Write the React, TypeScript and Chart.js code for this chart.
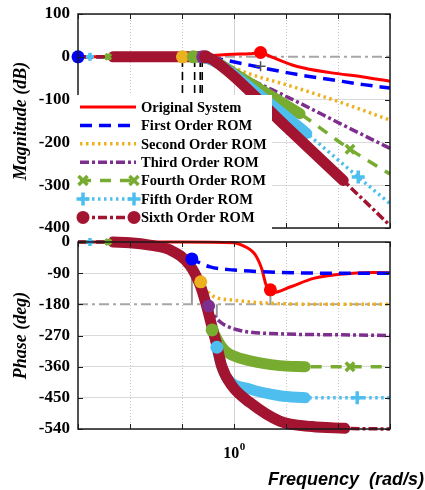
import React, { useEffect, useRef } from 'react';
import { Chart, registerables } from 'chart.js';

Chart.register(...registerables);

const SERIF = '"Liberation Serif", "Times New Roman", Times, serif';
const SANS = '"Liberation Sans", Arial, Helvetica, sans-serif';

const RED = '#ff0000';
const BLUE = '#0000ff';
const ORANGE = '#edb120';
const PURPLE = '#7e2f8e';
const GREEN = '#77ac30';
const CYAN = '#4dbeee';
const MAROON = '#a2142f';
const GRAY = '#a6a6a6';

const SERIES_LABELS = [
  'Original System',
  'First Order ROM',
  'Second Order ROM',
  'Third Order ROM',
  'Fourth Order ROM',
  'Fifth Order ROM',
  'Sixth Order ROM',
];

// ---- axes ----
const W_MIN = 1e-3;
const W_MAX = 1e3;
const DECADES = [1e-3, 1e-2, 1e-1, 1, 10, 100, 1000];
const X_LABEL_VALUE = 1;
const MAG_MIN = -400, MAG_MAX = 100, MAG_STEP = 100;
const PH_MIN = -540, PH_MAX = 0, PH_STEP = 90;
const MAG_REF = 0;     // 0 dB reference line
const PH_REF = -180;   // -180 deg reference line

// ---- magnitude (dB) ----
const MAG_ORIG_W = [0.001, 0.1, 0.316, 0.631, 1, 2, 3.24, 4, 5.75, 15.8, 70.8, 309, 1000];
const MAG_ORIG_DB = [0, 0.3, 2, 5, 6, 7, 10, 6, -2, -22, -37, -47, -57];
const MAG_R1_W = [0.001, 0.1, 0.251, 0.501, 0.832, 3.63, 15.8, 70.8, 309, 1000];
const MAG_R1_DB = [0, 0, -2, -5, -10, -26, -41, -53, -65, -73];
const MAG_R2_W = [0.001, 0.1, 0.316, 0.501, 1, 2, 12, 110, 1000];
const MAG_R2_DB = [0, 0, -3, -10, -26, -40, -68, -106, -148];
const MAG_R3_W = [0.001, 0.158, 0.282, 0.501, 1, 2.75, 12, 110, 1000];
const MAG_R3_DB = [0, 0, -3, -15, -33, -60, -97, -156, -214];
const MAG_R4_W = [0.001, 0.2, 0.316, 0.501, 1, 18.6, 170, 1000];
const MAG_R4_DB = [0, 0, -4, -15, -38, -133, -216, -274];
const MAG_R5_W = [0.001, 0.2, 0.316, 0.501, 1, 25.1, 245, 1000];
const MAG_R5_DB = [0, 0, -4, -16, -42, -179, -281, -343];
const MAG_R6_W = [0.001, 0.0047, 0.251, 0.355, 0.501, 1, 10, 126, 1000];
const MAG_R6_DB = [0, 0, 0, -4, -16, -46, -163, -289, -394];

const MAG_BAND_R4 = [0.2, 18.6];
const MAG_BAND_R5 = [0.2, 25.1];
const MAG_BAND_R6 = [0.0047, 126];

const MAG_DOT_W = [0.001, 0.102, 0.165, 0.25, 0.285, 3.24];
const MAG_DOT_DB = [0, 0, 0, 0, 0, 10];
const MAG_DOT_COLORS = [BLUE, ORANGE, GREEN, PURPLE, MAROON, RED];
const MAG_R4_MARK_W = [0.0038, 170];
const MAG_R4_MARK_DB = [0, -216];
const MAG_R5_MARK_W = [0.0017, 245];
const MAG_R5_MARK_DB = [0, -281];
const MAG_GM_MARK_W = [3.24];
const MAG_GM_MARK_DB = [-22];
const GM_LINE_W = [0.102, 0.175, 0.224, 0.245];
const GM_LINE_FROM = -5;
const GM_LINE_TO = -120;

// ---- phase (deg) ----
const PH_ORIG_W = [0.001, 0.1, 1, 1.41, 2.51, 3.39, 4.17, 5.01, 5.75, 12, 33.9, 110, 479, 1000];
const PH_ORIG_DEG = [0, 0, -2, -9, -35, -76, -125, -138, -146, -130, -105, -93, -88, -89];
const PH_R1_W = [0.001, 0.01, 0.0316, 0.063, 0.1, 0.155, 0.347, 1, 7.59, 100, 1000];
const PH_R1_DEG = [0, -2, -8, -20, -32, -49, -72, -81, -88, -90, -90];
const PH_R2_W = [0.001, 0.01, 0.024, 0.059, 0.141, 0.229, 0.372, 1, 7.59, 100, 1000];
const PH_R2_DEG = [0, -2, -9, -23, -67, -115, -154, -168, -178, -180, -180];
const PH_R3_W = [0.001, 0.01, 0.024, 0.059, 0.141, 0.224, 0.324, 0.468, 1, 7.59, 110, 1000];
const PH_R3_DEG = [0, -2, -9, -23, -67, -125, -185, -222, -251, -265, -268, -270];
const PH_R4_W = [0.001, 0.01, 0.024, 0.059, 0.141, 0.224, 0.295, 0.38, 0.562, 0.724, 2.04, 7.59, 23.4, 170, 1000];
const PH_R4_DEG = [0, -2, -9, -23, -67, -125, -183, -254, -300, -318, -343, -357, -360, -360, -360];
const PH_R5_W = [0.001, 0.01, 0.024, 0.059, 0.141, 0.224, 0.295, 0.372, 0.468, 0.575, 0.724, 2.04, 7.59, 23.4, 234, 1000];
const PH_R5_DEG = [0, -2, -9, -23, -67, -125, -183, -241, -304, -357, -392, -425, -444, -450, -450, -450];
const PH_R6_W = [0.001, 0.0047, 0.01, 0.024, 0.059, 0.141, 0.224, 0.295, 0.372, 0.468, 0.575, 0.912, 2.04, 7.59, 31.6, 135, 1000];
const PH_R6_DEG = [0, 0, -2, -9, -23, -67, -125, -183, -241, -299, -357, -415, -464, -517, -533, -538, -540];

const PH_BAND_R4 = [0.38, 23.4];
const PH_BAND_R5 = [0.468, 23.4];
const PH_BAND_R6 = [0.0047, 135];

const PH_DOT_W = [0.155, 0.229, 0.324, 0.38, 0.468, 5.01];
const PH_DOT_DEG = [-49, -115, -185, -254, -304, -138];
const PH_DOT_COLORS = [BLUE, ORANGE, PURPLE, GREEN, CYAN, RED];
const PH_R4_MARK_W = [0.0038, 170];
const PH_R4_MARK_DEG = [0, -360];
const PH_R5_MARK_W = [0.0017, 234];
const PH_R5_MARK_DEG = [0, -450];
const PM_LINE_W = [0.155, 0.468, 5.01];
const PM_LINE_FROM = [-180, -180, -180];
const PM_LINE_TO = [-86, -217, -149];

// ---- styles ----
const STY = [
  { color: RED, dash: [] as number[], width: 3, marker: '' },
  { color: BLUE, dash: [12, 7], width: 3.5, marker: '' },
  { color: ORANGE, dash: [2.5, 3.5], width: 3.5, marker: '' },
  { color: PURPLE, dash: [9, 3, 3, 3], width: 3.5, marker: '' },
  { color: GREEN, dash: [11, 9], width: 3.5, marker: 'x' },
  { color: CYAN, dash: [2.5, 3.5], width: 3.5, marker: '+' },
  { color: MAROON, dash: [9, 3, 3, 3], width: 3.5, marker: 'o' },
];
const BAND_WIDTH = 11;

type P = { x: number; y: number };
const pts = (w: number[], v: number[]): P[] => w.map((x, i) => ({ x, y: v[i] }));
const within = (p: P[], r: number[]) => p.filter((q) => q.x >= r[0] && q.x <= r[1]);

function curve(data: P[], i: number, order: number) {
  const s = STY[i];
  return {
    data, borderColor: s.color, backgroundColor: s.color, borderWidth: s.width, borderDash: s.dash,
    pointRadius: 0, cubicInterpolationMode: 'monotone', fill: false, clip: false, order,
  };
}
function bandSet(data: P[], color: string, order: number) {
  return {
    data, borderColor: color, borderWidth: BAND_WIDTH, pointRadius: 0, cubicInterpolationMode: 'monotone',
    borderCapStyle: 'round', borderJoinStyle: 'round', fill: false, clip: false, order,
  };
}
function markers(data: P[], colors: any, style: string, radius: any, bw: number, order: number) {
  return {
    data, showLine: false, pointStyle: style, pointRadius: radius, pointBackgroundColor: colors,
    pointBorderColor: colors, pointBorderWidth: bw, clip: false, order,
  };
}
function straight(data: P[], color: string, width: number, dash: number[], order: number) {
  return {
    data, borderColor: color, borderWidth: width, borderDash: dash, pointRadius: 0, tension: 0,
    fill: false, clip: false, order,
  };
}

function magDatasets() {
  const r4 = pts(MAG_R4_W, MAG_R4_DB);
  const r5 = pts(MAG_R5_W, MAG_R5_DB);
  const r6 = pts(MAG_R6_W, MAG_R6_DB);
  const sets: any[] = [
    markers(pts(MAG_DOT_W, MAG_DOT_DB), MAG_DOT_COLORS, 'circle', 6.5, 0, 0),
    markers(pts(MAG_R4_MARK_W, MAG_R4_MARK_DB), GREEN, 'crossRot', [4, 6], 3.5, 1),
    markers(pts(MAG_R5_MARK_W, MAG_R5_MARK_DB), CYAN, 'cross', [4, 6.5], 3.5, 1),
    markers(pts(MAG_GM_MARK_W, MAG_GM_MARK_DB), '#555555', 'cross', 5, 1.5, 1),
    bandSet(within(r6, MAG_BAND_R6), MAROON, 2),
    curve(r6, 6, 3),
    bandSet(within(r5, MAG_BAND_R5), CYAN, 4),
    curve(r5, 5, 5),
    bandSet(within(r4, MAG_BAND_R4), GREEN, 6),
    curve(r4, 4, 7),
    curve(pts(MAG_R3_W, MAG_R3_DB), 3, 8),
    curve(pts(MAG_R2_W, MAG_R2_DB), 2, 9),
    curve(pts(MAG_R1_W, MAG_R1_DB), 1, 10),
    curve(pts(MAG_ORIG_W, MAG_ORIG_DB), 0, 11),
    straight([{ x: W_MIN, y: MAG_REF }, { x: W_MAX, y: MAG_REF }], GRAY, 2, [10, 4, 3, 4], 12),
  ];
  GM_LINE_W.forEach((w) => {
    sets.push(straight([{ x: w, y: GM_LINE_FROM }, { x: w, y: GM_LINE_TO }], '#000000', 1.6, [8, 5], 12));
  });
  return sets;
}

function phDatasets() {
  const r4 = pts(PH_R4_W, PH_R4_DEG);
  const r5 = pts(PH_R5_W, PH_R5_DEG);
  const r6 = pts(PH_R6_W, PH_R6_DEG);
  const sets: any[] = [
    markers(pts(PH_DOT_W, PH_DOT_DEG), PH_DOT_COLORS, 'circle', 6.5, 0, 0),
    markers(pts(PH_R4_MARK_W, PH_R4_MARK_DEG), GREEN, 'crossRot', [4, 6], 3.5, 1),
    markers(pts(PH_R5_MARK_W, PH_R5_MARK_DEG), CYAN, 'cross', [4, 6.5], 3.5, 1),
    bandSet(within(r6, PH_BAND_R6), MAROON, 2),
    curve(r6, 6, 3),
    bandSet(within(r5, PH_BAND_R5), CYAN, 4),
    curve(r5, 5, 5),
    bandSet(within(r4, PH_BAND_R4), GREEN, 6),
    curve(r4, 4, 7),
    curve(pts(PH_R3_W, PH_R3_DEG), 3, 8),
    curve(pts(PH_R2_W, PH_R2_DEG), 2, 9),
    curve(pts(PH_R1_W, PH_R1_DEG), 1, 10),
    curve(pts(PH_ORIG_W, PH_ORIG_DEG), 0, 11),
    straight([{ x: W_MIN, y: PH_REF }, { x: W_MAX, y: PH_REF }], GRAY, 2, [10, 4, 3, 4], 12),
  ];
  PM_LINE_W.forEach((w, i) => {
    sets.push(straight([{ x: w, y: PM_LINE_FROM[i] }, { x: w, y: PM_LINE_TO[i] }], '#999999', 2, [], 12));
  });
  return sets;
}

// ---- plugins ----
const gridPlugin = {
  id: 'decadeGrid',
  beforeDatasetsDraw(chart: any) {
    const { ctx, chartArea: a, scales } = chart;
    const x = scales.x;
    ctx.save();
    DECADES.forEach((v) => {
      if (v === W_MIN || v === W_MAX) return;
      const px = Math.round(x.getPixelForValue(v)) + 0.5;
      ctx.beginPath();
      ctx.lineWidth = 1;
      ctx.strokeStyle = v === 1 ? '#d4d4d4' : '#c4c4c4';
      ctx.setLineDash(v === 1 ? [] : [1, 2]);
      ctx.moveTo(px, a.top);
      ctx.lineTo(px, a.bottom);
      ctx.stroke();
    });
    ctx.restore();
  },
};

const framePlugin = {
  id: 'frameBox',
  afterDatasetsDraw(chart: any) {
    const { ctx, chartArea: a, scales } = chart;
    ctx.save();
    ctx.setLineDash([]);
    ctx.strokeStyle = '#1a1a1a';
    ctx.lineWidth = 1.5;
    ctx.strokeRect(a.left, a.top, a.right - a.left, a.bottom - a.top);
    ctx.lineWidth = 1;
    ctx.beginPath();
    scales.y.ticks.forEach((t: any) => {
      const py = Math.round(scales.y.getPixelForValue(t.value)) + 0.5;
      ctx.moveTo(a.left, py); ctx.lineTo(a.left + 5, py);
      ctx.moveTo(a.right - 5, py); ctx.lineTo(a.right, py);
    });
    DECADES.forEach((v) => {
      const px = Math.round(scales.x.getPixelForValue(v)) + 0.5;
      ctx.moveTo(px, a.bottom); ctx.lineTo(px, a.bottom - 5);
      ctx.moveTo(px, a.top); ctx.lineTo(px, a.top + 5);
    });
    ctx.stroke();
    ctx.restore();
  },
};

function drawMarker(ctx: CanvasRenderingContext2D, kind: string, x: number, y: number, color: string) {
  ctx.save();
  ctx.setLineDash([]);
  ctx.strokeStyle = color;
  ctx.fillStyle = color;
  if (kind === 'o') {
    ctx.beginPath();
    ctx.arc(x, y, 6.5, 0, Math.PI * 2);
    ctx.fill();
  } else if (kind === 'x') {
    ctx.lineWidth = 3.5;
    ctx.beginPath();
    ctx.moveTo(x - 4.5, y - 4.5); ctx.lineTo(x + 4.5, y + 4.5);
    ctx.moveTo(x - 4.5, y + 4.5); ctx.lineTo(x + 4.5, y - 4.5);
    ctx.stroke();
  } else if (kind === '+') {
    ctx.lineWidth = 3.5;
    ctx.beginPath();
    ctx.moveTo(x - 6.5, y); ctx.lineTo(x + 6.5, y);
    ctx.moveTo(x, y - 6.5); ctx.lineTo(x, y + 6.5);
    ctx.stroke();
  }
  ctx.restore();
}

const legendPlugin = {
  id: 'boxLegend',
  afterDraw(chart: any) {
    const { ctx, chartArea: a } = chart;
    const left = a.left - 2;
    const top = 95;
    const right = 272;
    const bottom = a.bottom + 4;
    ctx.save();
    ctx.fillStyle = '#ffffff';
    ctx.fillRect(left, top, right - left, bottom - top);
    const x0 = a.left + 2;
    const x1 = a.left + 58;
    SERIES_LABELS.forEach((label, i) => {
      const s = STY[i];
      const y = 107 + i * 18.4;
      ctx.beginPath();
      ctx.setLineDash(s.dash);
      ctx.lineWidth = s.width;
      ctx.strokeStyle = s.color;
      ctx.moveTo(x0, y);
      ctx.lineTo(x1, y);
      ctx.stroke();
      ctx.setLineDash([]);
      if (s.marker) {
        drawMarker(ctx, s.marker, x0 + 3, y, s.color);
        drawMarker(ctx, s.marker, x1 - 2, y, s.color);
      }
      ctx.fillStyle = '#000000';
      ctx.font = `bold 14.5px ${SERIF}`;
      ctx.textAlign = 'left';
      ctx.textBaseline = 'middle';
      ctx.fillText(label, a.left + 63, y + 1);
    });
    ctx.restore();
  },
};

const bottomTextPlugin = {
  id: 'bottomText',
  afterDraw(chart: any) {
    const { ctx, chartArea: a, scales } = chart;
    const cx = scales.x.getPixelForValue(X_LABEL_VALUE);
    ctx.save();
    ctx.fillStyle = '#000000';
    ctx.textAlign = 'left';
    ctx.textBaseline = 'alphabetic';
    ctx.font = `bold 16px ${SERIF}`;
    const w10 = ctx.measureText('10').width;
    ctx.font = `bold 11px ${SERIF}`;
    const w0 = ctx.measureText('0').width;
    const start = cx - (w10 + w0) / 2;
    ctx.font = `bold 16px ${SERIF}`;
    ctx.fillText('10', start, a.bottom + 29);
    ctx.font = `bold 11px ${SERIF}`;
    ctx.fillText('0', start + w10 + 0.5, a.bottom + 21);
    ctx.font = `italic bold 18px ${SANS}`;
    ctx.textAlign = 'right';
    ctx.fillText('Frequency  (rad/s)', chart.width - 1, a.bottom + 56);
    ctx.restore();
  },
};

function makeConfig(kind: 'mag' | 'ph'): any {
  const isMag = kind === 'mag';
  const ref = isMag ? MAG_REF : PH_REF;
  return {
    type: 'line',
    data: { datasets: isMag ? magDatasets() : phDatasets() },
    options: {
      responsive: false,
      animation: false,
      events: [],
      layout: { padding: { top: isMag ? 14 : 12, right: 35, left: 0, bottom: 0 } },
      plugins: { legend: { display: false }, tooltip: { enabled: false } },
      scales: {
        x: {
          type: 'logarithmic',
          min: W_MIN,
          max: W_MAX,
          afterBuildTicks: (s: any) => { s.ticks = DECADES.map((v) => ({ value: v })); },
          ticks: { display: false },
          grid: { display: false },
          border: { display: false },
          afterFit: (s: any) => {
            s.height = isMag ? 12 : 61;
            s.paddingLeft = 0; s.paddingRight = 0;
          },
        },
        y: {
          type: 'linear',
          min: isMag ? MAG_MIN : PH_MIN,
          max: isMag ? MAG_MAX : PH_MAX,
          ticks: {
            stepSize: isMag ? MAG_STEP : PH_STEP,
            font: { family: SERIF, weight: 'bold', size: 17 },
            color: '#000000',
            padding: 8,
          },
          grid: {
            color: (c: any) => (c.tick && c.tick.value === ref ? 'rgba(0,0,0,0)' : '#dadada'),
            lineWidth: 1,
            drawTicks: false,
          },
          border: { display: false },
          title: {
            display: true,
            text: isMag ? 'Magnitude (dB)' : 'Phase (deg)',
            font: { family: SERIF, style: 'italic', weight: 'bold', size: 18 },
            color: '#000000',
            padding: { top: 11, bottom: 0 },
          },
          afterFit: (s: any) => {
            s.width = 78;
            s.paddingTop = 0; s.paddingBottom = 0;
          },
        },
      },
    },
    plugins: isMag ? [gridPlugin, framePlugin, legendPlugin] : [gridPlugin, framePlugin, bottomTextPlugin],
  };
}

export default function App() {
  const topRef = useRef<HTMLCanvasElement>(null);
  const botRef = useRef<HTMLCanvasElement>(null);
  useEffect(() => {
    const c2 = new Chart(botRef.current as HTMLCanvasElement, makeConfig('ph'));
    const c1 = new Chart(topRef.current as HTMLCanvasElement, makeConfig('mag'));
    return () => {
      c1.destroy();
      c2.destroy();
    };
  }, []);
  return (
    <div style={{ position: 'absolute', left: 0, top: 0, width: 425, height: 490, background: '#ffffff', overflow: 'hidden' }}>
      <canvas
        ref={botRef}
        width={425}
        height={260}
        style={{ position: 'absolute', left: 0, top: 230, width: 425, height: 260 }}
      />
      <canvas
        ref={topRef}
        width={425}
        height={240}
        style={{ position: 'absolute', left: 0, top: 0, width: 425, height: 240 }}
      />
    </div>
  );
}
